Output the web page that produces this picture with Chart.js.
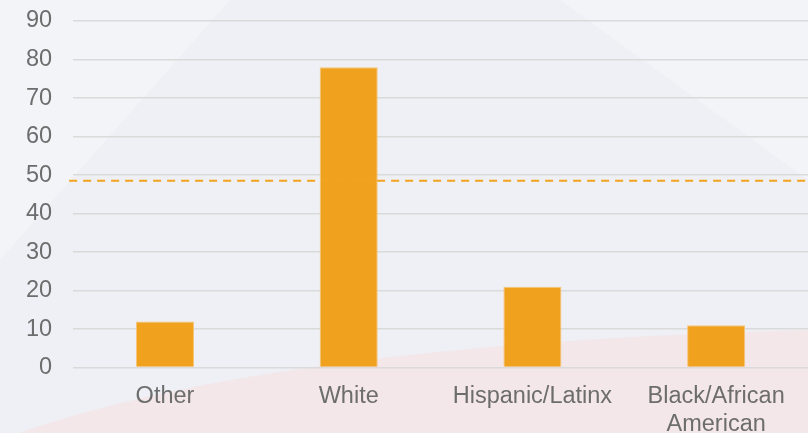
<!DOCTYPE html>
<html>
<head>
<meta charset="utf-8">
<script src="https://cdn.jsdelivr.net/npm/chart.js@4/dist/chart.umd.min.js"></script>
<style>
html,body{margin:0;padding:0;background:#eef0f5;}
#wrap{width:808px;height:433px;position:relative;}
</style>
</head>
<body>
<div id="wrap"><canvas id="c" width="808" height="433"></canvas></div>
<script>
const categories = ["Other", "White", "Hispanic/Latinx", ["Black/African", "American"]];
const values = [12, 78, 21, 11];
const referenceLine = 48.5;
const yTicks = [0, 10, 20, 30, 40, 50, 60, 70, 80, 90];

const bgPlugin = {
  id: 'bg',
  beforeDraw(chart) {
    const ctx = chart.ctx, w = chart.width, h = chart.height;
    ctx.save();
    ctx.fillStyle = '#eef0f5';
    ctx.fillRect(0, 0, w, h);
    ctx.fillStyle = 'rgba(255,255,255,0.25)';
    ctx.beginPath(); ctx.moveTo(0, 0); ctx.lineTo(230, 0); ctx.lineTo(0, 260); ctx.closePath(); ctx.fill();
    ctx.beginPath(); ctx.moveTo(560, 0); ctx.lineTo(808, 0); ctx.lineTo(808, 180); ctx.closePath(); ctx.fill();
    ctx.fillStyle = 'rgba(245,226,229,0.7)';
    ctx.beginPath();
    ctx.moveTo(0, 440);
    ctx.quadraticCurveTo(250, 345, 808, 330);
    ctx.lineTo(808, 433);
    ctx.lineTo(0, 433);
    ctx.closePath();
    ctx.fill();
    ctx.restore();
  }
};

const refLinePlugin = {
  id: 'refLine',
  afterDatasetsDraw(chart) {
    const y = chart.scales.y.getPixelForValue(referenceLine);
    const ctx = chart.ctx;
    ctx.save();
    ctx.strokeStyle = '#f2a31f';
    ctx.lineWidth = 2;
    ctx.setLineDash([8, 6]);
    ctx.beginPath();
    ctx.moveTo(chart.chartArea.left - 4, y);
    ctx.lineTo(chart.width, y);
    ctx.stroke();
    ctx.restore();
  }
};

new Chart(document.getElementById('c'), {
  type: 'bar',
  data: {
    labels: categories,
    datasets: [{
      data: values,
      backgroundColor: '#f0a21f',
      borderColor: '#f6c57a',
      borderWidth: 1,
      barPercentage: 0.316,
      categoryPercentage: 1
    }]
  },
  options: {
    responsive: false,
    animation: false,
    devicePixelRatio: 1,
    layout: { padding: { top: 21, right: 0, left: 5, bottom: -21 } },
    plugins: { legend: { display: false }, tooltip: { enabled: false } },
    scales: {
      x: {
        grid: { display: false, drawTicks: false },
        border: { display: false },
        ticks: {
          color: '#6d6d6d',
          font: { family: 'Liberation Sans, Arial, sans-serif', size: 23.5, lineHeight: 1.2 },
          padding: 15,
          maxRotation: 0,
          autoSkip: false
        }
      },
      y: {
        min: 0,
        max: 90,
        afterBuildTicks(axis) { axis.ticks = yTicks.map(v => ({ value: v })); },
        afterFit(scale) { scale.paddingTop = 0; scale.paddingBottom = 0; },
        grid: { color: '#dadada', lineWidth: 1.5, drawTicks: false },
        border: { display: false },
        ticks: {
          color: '#6d6d6d',
          font: { family: 'Liberation Sans, Arial, sans-serif', size: 23.5 },
          padding: 21
        }
      }
    }
  },
  plugins: [bgPlugin, refLinePlugin]
});
</script>
</body>
</html>
